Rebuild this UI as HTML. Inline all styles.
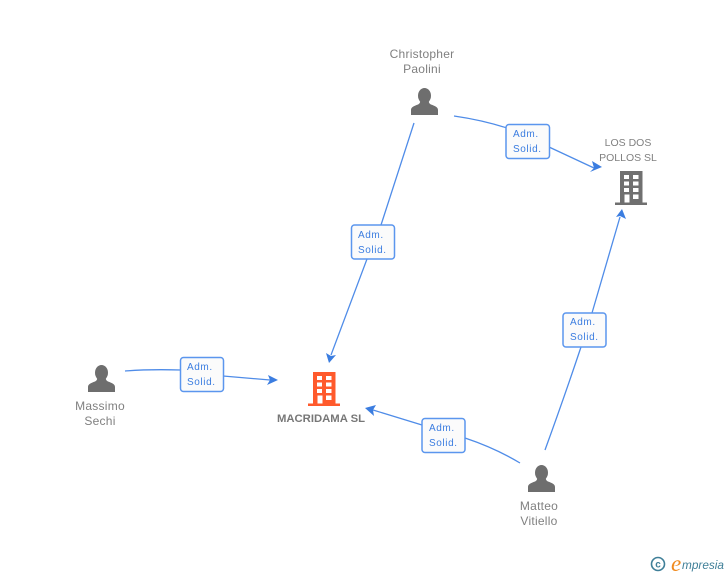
<!DOCTYPE html>
<html><head><meta charset="utf-8"><style>
html,body{margin:0;padding:0;background:#fff}
svg{display:block}
.n{font:12px "Liberation Sans",sans-serif;fill:#808080;text-anchor:middle;letter-spacing:.25px}
.e{font:10.500px "Liberation Sans",sans-serif;fill:#808080;text-anchor:middle}
.l{font:10px "Liberation Sans",sans-serif;fill:#3b7de0;letter-spacing:.6px}
.c{fill:none;stroke:#4f8ce8;stroke-width:1.3}
.b{fill:#fbfbfb;stroke:#5b96ee;stroke-width:1.500}
</style></head><body>
<svg width="728" height="575" viewBox="0 0 728 575" xmlns="http://www.w3.org/2000/svg">
<defs>
<g id="p"><ellipse cx="13.500" cy="7.800" rx="6.500" ry="7.800"/><path d="M0 27V22C0 19 3 18 7 16.500C9 15.500 9.500 14 9 12H18C17.500 14 18 15.500 20 16.500C24 18 27 19 27 22V27Z"/></g>
<g id="b"><path d="M5 0H27.500V31.500H32V34H0V31.500H5Z"/><g fill="#fff"><rect x="9" y="4" width="5" height="4"/><rect x="18" y="4" width="5.500" height="4"/><rect x="9" y="10.500" width="5" height="4"/><rect x="18" y="10.500" width="5.500" height="4"/><rect x="9" y="17" width="5" height="4"/><rect x="18" y="17" width="5.500" height="4"/><rect x="9.500" y="23.500" width="5" height="8"/><rect x="18" y="23.500" width="5.500" height="4.500"/></g></g>
</defs>
<path class="c" d="M454 116Q482 120 507 128"/><path class="c" d="M549 147L594 168"/>
<path d="M602 167L590 172L594 168L592 161Z" fill="#3b7de0"/>
<path class="c" d="M414 123Q396 178 381 225"/><path class="c" d="M367 259L331 355"/>
<path d="M329 363L326 353L331 356L336 355Z" fill="#3b7de0"/>
<path class="c" d="M125 371Q150 369 181 370"/><path class="c" d="M223 376L270 380"/>
<path d="M278 380L267 385L270 380L268 375Z" fill="#3b7de0"/>
<path class="c" d="M520 463Q495 448 465 438"/><path class="c" d="M422 425L373 410"/>
<path d="M365 408L376 405L373 410L374 416Z" fill="#3b7de0"/>
<path class="c" d="M545 450Q565 395 581 347"/><path class="c" d="M592 313L620 217"/>
<path d="M622 209L626 219L620 216L616 217Z" fill="#3b7de0"/>
<rect class="b" x="506" y="124.500" width="43.500" height="34" rx="3"/>
<rect class="b" x="180.500" y="357.500" width="43" height="34" rx="3"/>
<rect class="b" x="351.500" y="225" width="43" height="34" rx="3"/>
<rect class="b" x="422" y="418.500" width="43" height="34" rx="3"/>
<rect class="b" x="563" y="313" width="43" height="34" rx="3"/>
<text class="l" x="513" y="137">Adm.</text><text class="l" x="513" y="152">Solid.</text>
<text class="l" x="187" y="370">Adm.</text><text class="l" x="187" y="385">Solid.</text>
<text class="l" x="358" y="238">Adm.</text><text class="l" x="358" y="253">Solid.</text>
<text class="l" x="429" y="431">Adm.</text><text class="l" x="429" y="446">Solid.</text>
<text class="l" x="570" y="325">Adm.</text><text class="l" x="570" y="340">Solid.</text>
<use href="#p" x="411" y="88" fill="#6e6e6e"/>
<use href="#p" x="88" y="365" fill="#6e6e6e"/>
<use href="#p" x="528" y="465" fill="#6e6e6e"/>
<use href="#b" x="615" y="171" fill="#707070"/>
<use href="#b" x="308" y="372" fill="#ff5a2c"/>
<text class="n" x="422" y="58">Christopher</text><text class="n" x="422" y="73">Paolini</text>
<text class="n" x="100" y="410">Massimo</text><text class="n" x="100" y="425">Sechi</text>
<text class="n" x="539" y="510">Matteo</text><text class="n" x="539" y="525">Vitiello</text>
<text class="e" x="628" y="146">LOS DOS</text><text class="e" x="628" y="161">POLLOS SL</text>
<text x="321" y="422" text-anchor="middle" style="font:bold 11.300px 'Liberation Sans',sans-serif;fill:#777">MACRIDAMA SL</text>
<circle cx="658" cy="564" r="6.500" fill="none" stroke="#3f7f98" stroke-width="1.600"/>
<text x="658" y="567.500" text-anchor="middle" style="font:bold 10px 'Liberation Sans',sans-serif;fill:#3f7f98">c</text>
<text x="671" y="571" style="font:italic 23px 'Liberation Serif',serif;fill:#f08a1d">e</text>
<text x="682" y="569" style="font:italic 11.800px 'Liberation Sans',sans-serif;fill:#3f7f98">mpresia</text>
</svg>
</body></html>
